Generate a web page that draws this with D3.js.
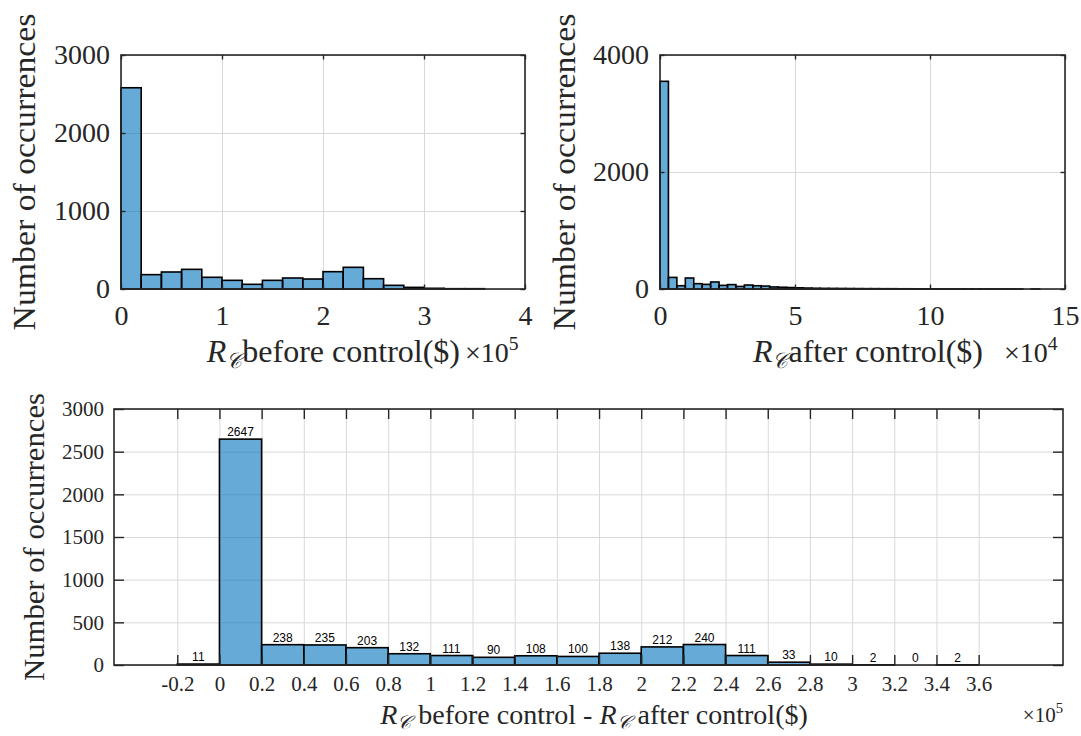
<!DOCTYPE html>
<html lang="en">
<head>
<meta charset="UTF-8">
<title>Histograms of R_C</title>
<script src="https://d3js.org/d3.v7.min.js"></script>
<style>
    body { margin: 0; background: #fff; }
    .grid line { stroke: #d9d9d9; stroke-width: 1; }
    .grid path { display: none; }
    .bar { fill: rgb(0, 114, 189); fill-opacity: 0.6; stroke: #000; stroke-width: 1.6; }
    .box { fill: none; stroke: #262626; stroke-width: 1.6; }
    .ticks path { display: none; }
    .ticks line { stroke: #262626; stroke-width: 1.4; }
    .ticks text { fill: #262626; font-family: "Liberation Serif", serif; }
    .lbl { fill: #262626; font-family: "Liberation Serif", serif; }
    .count { fill: #000; font-family: "Liberation Sans", Arial, sans-serif; font-size: 12px; text-anchor: middle; }
</style>
</head>
<body>
<svg id="fig" width="1081" height="736"></svg>
<script>
// ---- data ----
// R_C before control, bins of 0.2e5 starting at 0
const beforeBinStart = 0, beforeBinWidth = 0.2;
const beforeCounts = [2580, 184, 218, 252, 150, 111, 60, 111, 141, 128, 222, 278, 132, 47, 21, 9, 4, 4];
const beforeTicksX = [0, 1, 2, 3, 4];
const beforeTicksY = [0, 1000, 2000, 3000];

// R_C after control, bins of ~0.3125e4 starting at 0
const afterBinStart = 0, afterBinWidth = 0.3125;
const afterCounts = [3550, 198, 56, 188, 91, 79, 120, 62, 75, 44, 68, 56, 50, 35, 30, 25, 20, 16, 13, 11,
                     10, 9, 8, 7, 6, 6, 5, 5, 4, 4, 3, 3, 3, 2, 2, 2, 2, 1, 1, 1, 1, 1, 1, 0, 1];
const afterTicksX = [0, 5, 10, 15];
const afterTicksY = [0, 2000, 4000];

// difference, bins of 0.2e5 starting at -0.2
const diffBinStart = -0.2, diffBinWidth = 0.2;
const diffCounts = [11, 2647, 238, 235, 203, 132, 111, 90, 108, 100, 138, 212, 240, 111, 33, 10, 2, 0, 2];
const diffTicksX = [-0.2, 0, 0.2, 0.4, 0.6, 0.8, 1, 1.2, 1.4, 1.6, 1.8, 2, 2.2, 2.4, 2.6, 2.8, 3, 3.2, 3.4, 3.6];
const diffTickLabels = ["-0.2", "0", "0.2", "0.4", "0.6", "0.8", "1", "1.2", "1.4", "1.6", "1.8",
                        "2", "2.2", "2.4", "2.6", "2.8", "3", "3.2", "3.4", "3.6"];
const diffTicksY = [0, 500, 1000, 1500, 2000, 2500, 3000];

const svg = d3.select("#fig");

function toBins(counts, start, width) {
    return counts.map((c, i) => ({x0: start + i * width, x1: start + (i + 1) * width, n: c}));
}

// draws one histogram panel, returns the scales
function panel(p) {
    const x = d3.scaleLinear().domain(p.xDomain).range([p.left, p.right]);
    const y = d3.scaleLinear().domain(p.yDomain).range([p.bottom, p.top]);
    const g = svg.append("g");
    const h = p.bottom - p.top, w = p.right - p.left;

    // grid
    g.append("g").attr("class", "grid")
        .attr("transform", `translate(0,${p.bottom})`)
        .call(d3.axisBottom(x).tickValues(p.ticksX).tickSize(-h).tickFormat(""));
    g.append("g").attr("class", "grid")
        .attr("transform", `translate(${p.left},0)`)
        .call(d3.axisLeft(y).tickValues(p.ticksY).tickSize(-w).tickFormat(""));

    // bars
    const bins = toBins(p.counts, p.binStart, p.binWidth);
    g.selectAll(".bar").data(bins).enter().append("rect")
        .attr("class", "bar")
        .attr("x", d => x(d.x0))
        .attr("y", d => y(d.n))
        .attr("width", d => x(d.x1) - x(d.x0))
        .attr("height", d => y(0) - y(d.n));

    // ticks (inward) and labels
    const fmtX = p.tickLabelsX ? (d, i) => p.tickLabelsX[i] : d => String(d);
    const bx = g.append("g").attr("class", "ticks")
        .attr("transform", `translate(0,${p.bottom})`)
        .call(d3.axisBottom(x).tickValues(p.ticksX).tickSizeInner(-p.tickLen).tickSizeOuter(0)
            .tickPadding(p.padX).tickFormat(fmtX));
    bx.selectAll("text").attr("font-size", p.tickFont);
    g.append("g").attr("class", "ticks")
        .attr("transform", `translate(0,${p.top})`)
        .call(d3.axisTop(x).tickValues(p.ticksX).tickSizeInner(-p.tickLen).tickSizeOuter(0).tickFormat(""));
    const ly = g.append("g").attr("class", "ticks")
        .attr("transform", `translate(${p.left},0)`)
        .call(d3.axisLeft(y).tickValues(p.ticksY).tickSizeInner(-p.tickLen).tickSizeOuter(0)
            .tickPadding(p.padY).tickFormat(d => String(d)));
    ly.selectAll("text").attr("font-size", p.tickFont);
    g.append("g").attr("class", "ticks")
        .attr("transform", `translate(${p.right},0)`)
        .call(d3.axisRight(y).tickValues(p.ticksY).tickSizeInner(-p.tickLen).tickSizeOuter(0).tickFormat(""));
    g.selectAll(".ticks text").attr("font-family", null);

    g.append("rect").attr("class", "box")
        .attr("x", p.left).attr("y", p.top).attr("width", w).attr("height", h);

    // y label
    g.append("text").attr("class", "lbl")
        .attr("transform", "rotate(-90)")
        .attr("x", -(p.top + p.bottom) / 2)
        .attr("y", p.yLabelX)
        .attr("text-anchor", "middle")
        .attr("font-size", p.yLabelFont)
        .attr("textLength", p.yLabelLen)
        .attr("lengthAdjust", "spacingAndGlyphs")
        .text("Number of occurrences");

    return {x, y, g, bins};
}

// "R_C" followed by text pieces; the subscript shift is undone on the next piece
function rcLabel(t, parts, size) {
    let shift = 0;
    parts.forEach(part => {
        if (part === "RC") {
            t.append("tspan").attr("font-style", "italic").attr("dy", shift).text("R");
            t.append("tspan").attr("font-size", size * 0.68).attr("dy", size * 0.18)
                .attr("font-style", "italic").text("\u{1D49E}");
            shift = -size * 0.18;
        } else {
            t.append("tspan").attr("dy", shift).text(part);
            shift = 0;
        }
    });
}

function expLabel(x, y, pow, size, anchor) {
    const t = svg.append("text").attr("class", "lbl").attr("x", x).attr("y", y)
        .attr("font-size", size).attr("text-anchor", anchor);
    t.append("tspan").text("\u00d710");
    t.append("tspan").attr("font-size", size * 0.7).attr("dy", -size * 0.42).text(pow);
}

// ---- top left ----
panel({
    left: 121, right: 525, top: 55, bottom: 289,
    xDomain: [0, 4], yDomain: [0, 3000],
    counts: beforeCounts, binStart: beforeBinStart, binWidth: beforeBinWidth,
    ticksX: beforeTicksX, ticksY: beforeTicksY,
    tickLen: 4.5, tickFont: 28, padX: 16, padY: 11,
    yLabelX: 35, yLabelFont: 32, yLabelLen: 317
});
let t1 = svg.append("text").attr("class", "lbl").attr("x", 460).attr("y", 362)
    .attr("font-size", 32).attr("text-anchor", "end");
rcLabel(t1, ["RC", "before control($)"], 32);
expLabel(465, 362, "5", 28, "start");

// ---- top right ----
panel({
    left: 660, right: 1065, top: 55, bottom: 289,
    xDomain: [0, 15], yDomain: [0, 4000],
    counts: afterCounts, binStart: afterBinStart, binWidth: afterBinWidth,
    ticksX: afterTicksX, ticksY: afterTicksY,
    tickLen: 4.5, tickFont: 28, padX: 16, padY: 11,
    yLabelX: 575, yLabelFont: 32, yLabelLen: 317
});
let t2 = svg.append("text").attr("class", "lbl").attr("x", 983).attr("y", 362)
    .attr("font-size", 32).attr("text-anchor", "end");
rcLabel(t2, ["RC", "after control($)"], 32);
expLabel(1004, 362, "4", 28, "start");

// ---- bottom ----
const pb = panel({
    left: 114, right: 1063, top: 409, bottom: 665,
    xDomain: [-0.5, 4], yDomain: [0, 3000],
    counts: diffCounts, binStart: diffBinStart, binWidth: diffBinWidth,
    ticksX: diffTicksX, ticksY: diffTicksY, tickLabelsX: diffTickLabels,
    tickLen: 10, tickFont: 21, padX: 11, padY: 10,
    yLabelX: 44, yLabelFont: 29, yLabelLen: 288
});
pb.g.selectAll(".count").data(pb.bins).enter().append("text")
    .attr("class", "count")
    .attr("x", d => (pb.x(d.x0) + pb.x(d.x1)) / 2)
    .attr("y", d => pb.y(d.n) - 3)
    .text(d => d.n);

let t3 = svg.append("text").attr("class", "lbl").attr("x", 594).attr("y", 724)
    .attr("font-size", 28).attr("text-anchor", "middle");
rcLabel(t3, ["RC", " before control - ", "RC", " after control($)"], 28);
expLabel(1063, 722, "5", 21, "end");
</script>
</body>
</html>
